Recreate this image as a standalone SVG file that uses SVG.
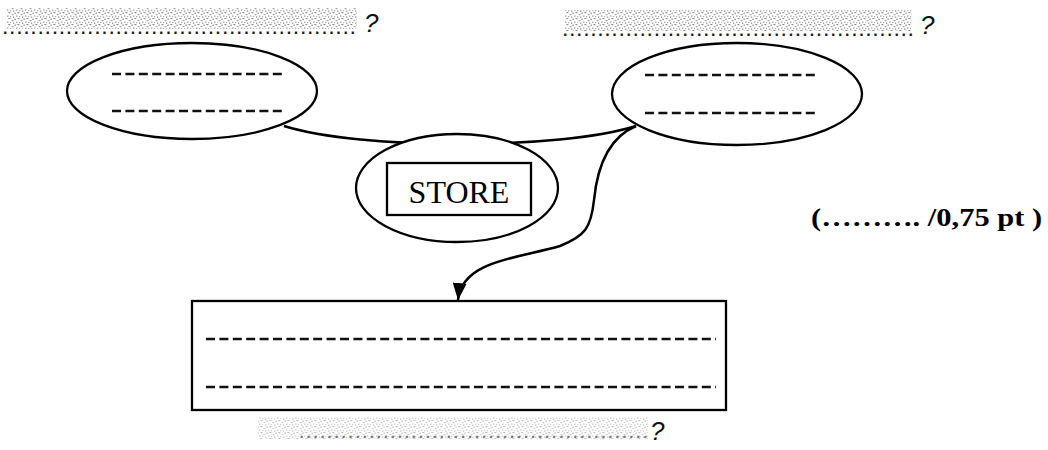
<svg xmlns="http://www.w3.org/2000/svg" width="1048" height="450" viewBox="0 0 1048 450">
  <style>
    .shape { fill: #ffffff; stroke: #000000; stroke-width: 2.3; }
    .blank { stroke: #111111; stroke-width: 2.6; stroke-dasharray: 9 4.4; fill: none; }
    .conn { fill: none; stroke: #000000; stroke-width: 2.5; }
    .dots { font-family: "Liberation Sans", Arial, sans-serif; font-weight: bold; font-size: 16px; fill: #1a1a1a; }
    .q { font-family: "Liberation Sans", Arial, sans-serif; font-style: italic; font-size: 26px; fill: #111111; }
    .store { font-family: "Liberation Serif", "Times New Roman", serif; font-size: 32px; fill: #000000; }
    .score { font-family: "Liberation Serif", "Times New Roman", serif; font-weight: bold; font-size: 25px; fill: #000000; }
  </style>
  <defs>
    <pattern id="noise" width="9" height="6" patternUnits="userSpaceOnUse">
      <rect x="0" y="0" width="1.4" height="1.2" fill="#8a8a8a"/>
      <rect x="3" y="2" width="1.5" height="1.2" fill="#a0a0a0"/>
      <rect x="5.5" y="0.5" width="1.2" height="1.5" fill="#858585"/>
      <rect x="7" y="3.5" width="1.5" height="1.2" fill="#9a9a9a"/>
      <rect x="1" y="4" width="1.2" height="1.2" fill="#aaaaaa"/>
      <rect x="4" y="4.5" width="1.3" height="1.3" fill="#909090"/>
      <rect x="8" y="0" width="1" height="1" fill="#b5b5b5"/>
      <rect x="2" y="2" width="0.8" height="0.8" fill="#bdbdbd"/>
    </pattern>
    <marker id="arrow" viewBox="0 0 17 14" markerWidth="17" markerHeight="14" refX="17" refY="7" orient="auto" markerUnits="userSpaceOnUse">
      <path d="M0,0 L17,7 L0,14 z" fill="#000000"/>
    </marker>
  </defs>
  <rect width="1048" height="450" fill="#ffffff"/>

  <g id="labels">
    <rect x="7" y="8" width="350" height="21" fill="url(#noise)"/>
    <text class="dots" x="3" y="34" textLength="352" lengthAdjust="spacing">..................................................</text>
    <text class="q" x="364" y="32">?</text>

    <rect x="565" y="10" width="347" height="21" fill="url(#noise)"/>
    <text class="dots" x="563" y="36" textLength="350" lengthAdjust="spacing">..................................................</text>
    <text class="q" x="920" y="34">?</text>

    <rect x="258" y="417" width="390" height="22" fill="url(#noise)" opacity="0.55"/>
    <text x="300" y="438" textLength="348" lengthAdjust="spacing" style="font-family:'Liberation Sans',Arial,sans-serif;font-size:15px;font-style:italic;font-weight:bold;fill:#777777">..................................................</text>
    <text class="q" x="650" y="440">?</text>

    <text class="score" transform="translate(811,226) scale(1.22,1)" x="0" y="0">(………. /0,75 pt )</text>
  </g>

  <g id="connectors">
    <path class="conn" d="M284,126 C360,150 560,150 636,126"/>
    <path class="conn" d="M636,126 C612,136 598,160 594,200 C591,228 585,236 560,246 C520,258 462,260 458,300" marker-end="url(#arrow)"/>
  </g>

  <g id="node-left">
    <ellipse class="shape" cx="192" cy="91" rx="125" ry="48"/>
    <line class="blank" x1="112" y1="74" x2="284" y2="74"/>
    <line class="blank" x1="112" y1="111" x2="284" y2="111"/>
  </g>

  <g id="node-right">
    <ellipse class="shape" cx="737" cy="94" rx="125" ry="51"/>
    <line class="blank" x1="645" y1="75" x2="817" y2="75"/>
    <line class="blank" x1="645" y1="113" x2="817" y2="113"/>
  </g>

  <g id="node-store">
    <ellipse class="shape" cx="457" cy="188" rx="101" ry="54"/>
    <rect class="shape" x="387" y="163" width="144" height="52"/>
    <text class="store" x="459" y="203" text-anchor="middle">STORE</text>
  </g>

  <g id="node-box">
    <rect class="shape" x="192" y="301" width="534" height="109" stroke-width="2.6"/>
    <line class="blank" x1="206" y1="339" x2="716" y2="339"/>
    <line class="blank" x1="206" y1="387" x2="716" y2="387"/>
  </g>
</svg>
